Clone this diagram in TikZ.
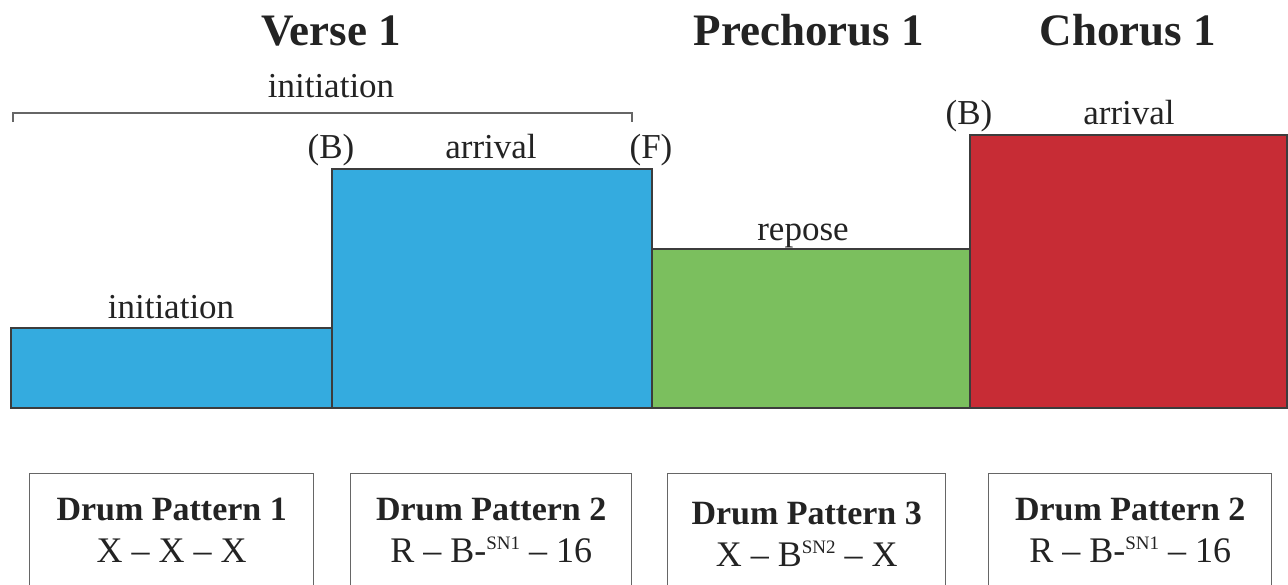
\documentclass[tikz,border=0pt]{standalone}
\usepackage{fontspec}
\setmainfont{Liberation Serif}
\usetikzlibrary{positioning}
\definecolor{sectblue}{HTML}{34ABDF}
\definecolor{sectgreen}{HTML}{7BBF5E}
\definecolor{sectred}{HTML}{C72C35}
\definecolor{edgegray}{HTML}{3C3C3C}
\definecolor{inkgray}{HTML}{232323}
\newcommand{\SUP}[1]{\raisebox{0.36em}{\fontsize{19}{19}\selectfont #1}}
\tikzset{
  block/.style={draw=edgegray, line width=1.6pt, inner sep=0pt, anchor=south west},
  sectitle/.style={font=\fontsize{45}{50}\selectfont\bfseries, text=inkgray, anchor=base, inner sep=0pt},
  lbl/.style={font=\fontsize{35}{40}\selectfont, text=inkgray, anchor=base, inner sep=0pt},
  drumbox/.style={draw=black!60, line width=1.4pt, anchor=north west, inner sep=0pt, minimum height=150pt},
  drumname/.style={font=\fontsize{34}{40}\selectfont\bfseries, text=inkgray, anchor=base, inner sep=0pt},
  drumseq/.style={font=\fontsize{36}{40}\selectfont, text=inkgray, anchor=base, inner sep=0pt}
}

\begin{document}
\begin{tikzpicture}[x=1pt, y=-1pt]
\useasboundingbox (0,0) rectangle (1288,584);

% section titles
\node[sectitle] (verse) at (331,45) {Verse 1};
\node[sectitle] (prech) at (809,45) {Prechorus 1};
\node[sectitle] (chorus) at (1128,45) {Chorus 1};

% bracket over the whole verse
\node[lbl] (verseinit) at (331,97) {initiation};
\coordinate (brl) at (13,122);
\coordinate (brr) at (632,122);
\draw[black!60, line width=1.2pt] (brl) -- ++(0,-9) -| (brr);

% blocks
\node[block, fill=sectblue, minimum width=321pt, minimum height=80pt] (init) at (10,409) {};
\node[block, fill=sectblue, minimum width=320pt, minimum height=239pt] (arrv) at (331,409) {};
\node[block, fill=sectgreen, minimum width=318pt, minimum height=159pt] (repo) at (651,409) {};
\node[block, fill=sectred, minimum width=317pt, minimum height=273pt] (charrv) at (969,409) {};

% block labels
\node[lbl] (initlbl) at (171,318) {initiation};
\node[lbl] (arrvB) at (331,158) {(B)};
\node[lbl] (arrvlbl) at (491,158) {arrival};
\node[lbl] (arrvF) at (651,158) {(F)};
\node[lbl] (repolbl) at (803,240) {repose};
\node[lbl] (chB) at (969,124) {(B)};
\node[lbl] (chlbl) at (1129,124) {arrival};

% drum pattern boxes (cut off at the bottom edge)
\begin{scope}
\clip (0,0) rectangle (1288,584);
\node[drumbox, minimum width=284pt] (dp1) at (29,473) {};
\node[drumbox, minimum width=281pt] (dp2) at (350,473) {};
\node[drumbox, minimum width=278pt] (dp3) at (667,473) {};
\node[drumbox, minimum width=283pt] (dp4) at (988,473) {};
\end{scope}

\node[drumname] (dp1name) at (dp1.north |- 0,520) {Drum Pattern 1};
\node[drumseq] (dp1seq) at (dp1.north |- 0,562) {X -- X -- X};
\node[drumname] (dp2name) at (dp2.north |- 0,520) {Drum Pattern 2};
\node[drumseq] (dp2seq) at (dp2.north |- 0,562) {R -- B-\SUP{SN1} -- 16};
\node[drumname] (dp3name) at (dp3.north |- 0,524) {Drum Pattern 3};
\node[drumseq] (dp3seq) at (dp3.north |- 0,566) {X -- B\SUP{SN2} -- X};
\node[drumname] (dp4name) at (dp4.north |- 0,520) {Drum Pattern 2};
\node[drumseq] (dp4seq) at (dp4.north |- 0,562) {R -- B-\SUP{SN1} -- 16};
\end{tikzpicture}
\end{document}
